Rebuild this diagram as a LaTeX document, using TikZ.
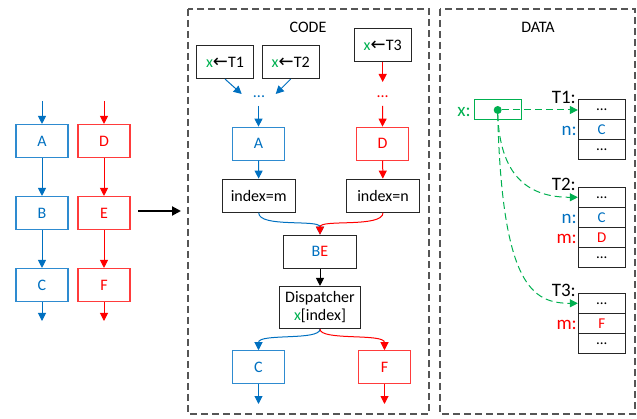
\documentclass[tikz,border=0pt]{standalone}
\usepackage{fontspec}
\setmainfont{Carlito}
\newfontfamily\arrowfont{DejaVu Sans}
\usetikzlibrary{arrows.meta}
\definecolor{cblue}{HTML}{0070C0}
\definecolor{cbluebox}{HTML}{2E8BD0}
\definecolor{cred}{HTML}{FF0000}
\definecolor{credbox}{HTML}{FF3B3B}
\definecolor{cgreen}{HTML}{00B050}
\definecolor{cgray}{HTML}{555555}
\definecolor{cdark}{HTML}{262626}
\tikzset{
  every node/.style={font=\fontsize{16}{18}\selectfont},
  tip/.style={-{Triangle[length=8pt,width=8pt]}},
  box/.style={draw, line width=1.1pt, inner sep=0pt, minimum width=#1, minimum height=33pt},
  box/.default=52pt,
  bluebox/.style={box, draw=cbluebox, text=cblue},
  redbox/.style={box, draw=credbox, text=cred},
  blackbox/.style={box=#1, draw=cdark, text=black},
  blackbox/.default=73pt,
  bflow/.style={tip, draw=cblue, line width=1pt},
  rflow/.style={tip, draw=cred, line width=1pt},
  frame/.style={draw=cgray, line width=1.3pt, dash pattern=on 7pt off 4pt},
  cell/.style={draw=cdark, line width=1pt, minimum width=46.7pt, minimum height=20pt, inner sep=0pt,
    font=\fontsize{15}{16}\selectfont},
  lbl/.style={anchor=base east, inner sep=0pt, font=\fontsize{19}{20}\selectfont},
  ptr/.style={-{Triangle[length=8pt,width=8pt]}, draw=cgreen, line width=1pt, dash pattern=on 7pt off 4pt},
}
\newcommand{\xget}[1]{{\color{cgreen}x}{\arrowfont\fontsize{18}{18}\selectfont ←}T#1}
\begin{document}
\begin{tikzpicture}[x=1pt,y=-1pt]
\useasboundingbox (0,0) rectangle (637,419);

% ---- original flow: two threads ----
\node[bluebox] (A) at (42,141) {A};
\node[bluebox] (B) at (42,213) {B};
\node[bluebox] (C) at (42,285) {C};
\node[redbox]  (D) at (104,141) {D};
\node[redbox]  (E) at (104,213) {E};
\node[redbox]  (F) at (104,285) {F};
\coordinate (ain) at (42,101);
\coordinate (aout) at (42,321);
\coordinate (din) at (104,101);
\coordinate (dout) at (104,321);
\draw[bflow] (ain) -- (A);
\draw[bflow] (A) -- (B);
\draw[bflow] (B) -- (C);
\draw[bflow] (C) -- (aout);
\draw[rflow] (din) -- (D);
\draw[rflow] (D) -- (E);
\draw[rflow] (E) -- (F);
\draw[rflow] (F) -- (dout);

% transformation arrow
\coordinate (tfrom) at (138,211);
\coordinate (tto) at (181,211);
\draw[-{Triangle[length=9pt,width=9pt]}, line width=2pt] (tfrom) -- (tto);

% ---- CODE panel ----
\draw[frame] (188,9) rectangle (429,414);
\node (codelbl) at (308,27) {CODE};

\node[blackbox=57pt] (t1) at (225,62) {\xget{1}};
\node[blackbox=57pt] (t2) at (290.7,62) {\xget{2}};
\node[blackbox=57pt] (t3) at (382.7,45) {\xget{3}};

\node[text=cblue, inner sep=1pt] (bdots) at (259,97) {...};
\node[text=cred, inner sep=1pt] (rdots) at (382.7,97) {...};

\draw[bflow] (t1.south) -- (241.7,94);
\draw[bflow] (t2.south) -- (275.7,94);
\draw[rflow] (t3.south) -- (382.7,82);

\node[bluebox] (cA) at (258.5,143.7) {A};
\node[redbox]  (cD) at (382.5,143.7) {D};
\draw[bflow] (258.5,106) -- (cA.north);
\draw[rflow] (382.7,106) -- (cD.north);

\node[blackbox] (im) at (258.7,195.7) {index=m};
\node[blackbox] (in) at (383,195.7) {index=n};
\draw[bflow] (cA) -- (im);
\draw[rflow] (cD) -- (in);

\node[blackbox] (be) at (320,251.7) {{\color{cblue}B}{\color{cred}E}};
\draw[bflow] (im.south) .. controls (258.7,228) and (320,219) .. (be.north);
\draw[rflow] (in.south) .. controls (383,228) and (320,219) .. (be.north);

\node[draw=cdark, line width=1.1pt, minimum width=81pt, minimum height=42pt, inner sep=0pt,
      align=center, font=\fontsize{16}{18}\selectfont] (disp) at (320,307.5)
      {Dispatcher\\{\color{cgreen}x}[index]};
\draw[tip, line width=1pt] (be) -- (disp);

\node[bluebox] (cC) at (258.5,367.3) {C};
\node[redbox]  (cF) at (384.5,367.3) {F};
\draw[bflow] (disp.south) .. controls (320,341) and (258.5,333) .. (cC.north);
\draw[rflow] (disp.south) .. controls (320,341) and (384.5,333) .. (cF.north);
\coordinate (cCout) at (258.5,404);
\coordinate (cFout) at (384.5,404);
\draw[bflow] (cC) -- (cCout);
\draw[rflow] (cF) -- (cFout);

% ---- DATA panel ----
\draw[frame] (440,9) rectangle (635,414);
\node (datalbl) at (538,27) {DATA};

\node[draw=cgreen, line width=1pt, minimum width=46.7pt, minimum height=20pt, inner sep=0pt] (xbox) at (498.3,110) {};
\node[lbl, text=cgreen] (xl) at (471,116.5) {x:};
\node[circle, fill=cgreen, minimum size=8pt, inner sep=0pt] (dot) at (497.7,110) {};

% table T1
\node[cell] (a1) at (601.7,110) {...};
\node[cell, text=cblue] (a2) at (601.7,130) {C};
\node[cell] (a3) at (601.7,150) {...};
\node[lbl] (a1l) at (576,104) {T1:};
\node[lbl, text=cblue] (a2l) at (577,136) {n:};

% table T2
\node[cell] (b1) at (601.7,197.3) {...};
\node[cell, text=cblue] (b2) at (601.7,217.3) {C};
\node[cell, text=cred] (b3) at (601.7,237.3) {D};
\node[cell] (b4) at (601.7,257.3) {...};
\node[lbl] (b1l) at (576,190.8) {T2:};
\node[lbl, text=cblue] (b2l) at (577,223.3) {n:};
\node[lbl, text=cred] (b3l) at (577,243.3) {m:};

% table T3
\node[cell] (c1) at (601.7,303.3) {...};
\node[cell, text=cred] (c2) at (601.7,323.3) {F};
\node[cell] (c3) at (601.7,343.3) {...};
\node[lbl] (c1l) at (576,296.8) {T3:};
\node[lbl, text=cred] (c2l) at (577,329.3) {m:};

% pointers held in x
\draw[ptr] (dot) -- (a1.west);
\draw[ptr] (dot.south) .. controls (500,175) and (527,197.3) .. (b1.west);
\draw[ptr] (dot.south) .. controls (502,285) and (532,303.3) .. (c1.west);
\end{tikzpicture}
\end{document}
